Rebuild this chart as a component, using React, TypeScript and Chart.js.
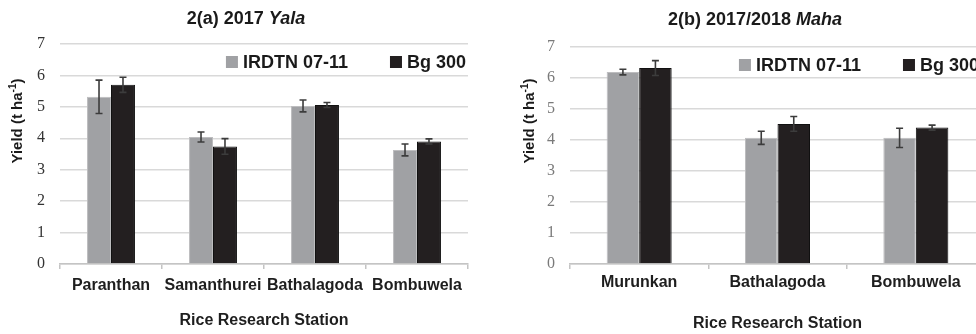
import React, { useEffect, useRef } from "react";
import { Chart, registerables } from "chart.js";

Chart.register(...registerables);

const seriesNames = ["IRDTN 07-11", "Bg 300"];
const yalaStations = ["Paranthan", "Samanthurei", "Bathalagoda", "Bombuwela"];
const yalaIrdtn = [5.32, 4.04, 5.03, 3.63];
const yalaIrdtnErr = [0.53, 0.16, 0.19, 0.19];
const yalaBg300 = [5.7, 3.74, 5.06, 3.9];
const yalaBg300Err = [0.24, 0.25, 0.08, 0.08];
const mahaStations = ["Murunkan", "Bathalagoda", "Bombuwela"];
const mahaIrdtn = [6.19, 4.07, 4.07];
const mahaIrdtnErr = [0.09, 0.21, 0.31];
const mahaBg300 = [6.32, 4.52, 4.4];
const mahaBg300Err = [0.24, 0.24, 0.08];
const yMin = 0;
const yMax = 7;
const yStep = 1;

const SANS = "'Liberation Sans', Arial, sans-serif";
const SERIF = "'Liberation Serif', 'Times New Roman', serif";
const GRAY = "#a0a1a4";
const GRAY_BORDER = "#bdbdbf";
const BLACK = "#231f20";
const BLACK_BORDER = "#111111";

type Deco = {
  titleMain: string;
  titleItalic: string;
  titleX: number;
  titleY: number;
  yTitleX: number;
  yTitleY: number;
  legendRightGap: number;
  legendDy: number;
  tickColor: string;
};

function makePlugins(deco: Deco) {
  const errorBars = {
    id: "errorBars",
    afterDatasetsDraw(chart: any) {
      const ctx = chart.ctx;
      const yScale = chart.scales.y;
      ctx.save();
      ctx.strokeStyle = "#3c3c3c";
      ctx.lineWidth = 1.6;
      chart.data.datasets.forEach((ds: any, i: number) => {
        const meta = chart.getDatasetMeta(i);
        meta.data.forEach((bar: any, j: number) => {
          const v = ds.data[j];
          const e = ds.errors[j];
          const x = bar.x;
          const yT = yScale.getPixelForValue(v + e);
          const yB = yScale.getPixelForValue(v - e);
          const cap = 3.5;
          ctx.beginPath();
          ctx.moveTo(x, yT);
          ctx.lineTo(x, yB);
          ctx.moveTo(x - cap, yT);
          ctx.lineTo(x + cap, yT);
          ctx.moveTo(x - cap, yB);
          ctx.lineTo(x + cap, yB);
          ctx.stroke();
        });
      });
      ctx.restore();
    },
  };

  const decorations = {
    id: "decorations",
    afterDraw(chart: any) {
      const ctx = chart.ctx;
      const area = chart.chartArea;
      ctx.save();
      // Title
      const fMain = `bold 18px ${SANS}`;
      const fIt = `italic bold 18px ${SANS}`;
      ctx.font = fMain;
      const w1 = ctx.measureText(deco.titleMain).width;
      ctx.font = fIt;
      const w2 = ctx.measureText(deco.titleItalic).width;
      let x0 = deco.titleX - (w1 + w2) / 2;
      ctx.fillStyle = "#1a1a1a";
      ctx.textBaseline = "middle";
      ctx.textAlign = "left";
      ctx.font = fMain;
      ctx.fillText(deco.titleMain, x0, deco.titleY);
      ctx.font = fIt;
      ctx.fillText(deco.titleItalic, x0 + w1, deco.titleY);

      // Y axis title
      ctx.save();
      ctx.translate(deco.yTitleX, area.top + deco.yTitleY);
      ctx.rotate(-Math.PI / 2);
      const fy = `bold 15px ${SANS}`;
      const fs = `bold 10px ${SANS}`;
      const a = "Yield (t ha";
      const sup = "-1";
      const b = ")";
      ctx.font = fy;
      const wa = ctx.measureText(a).width;
      const wb = ctx.measureText(b).width;
      ctx.font = fs;
      const ws = ctx.measureText(sup).width;
      let sx = -(wa + ws + wb) / 2;
      ctx.fillStyle = "#1a1a1a";
      ctx.font = fy;
      ctx.fillText(a, sx, 0);
      ctx.font = fs;
      ctx.fillText(sup, sx + wa, -5);
      ctx.font = fy;
      ctx.fillText(b, sx + wa + ws, 0);
      ctx.restore();

      // Legend
      const lf = `bold 18px ${SANS}`;
      ctx.font = lf;
      const box = 12;
      const gapText = 5;
      const gapItem = 42;
      const colors = [GRAY, BLACK];
      const widths = seriesNames.map((n) => ctx.measureText(n).width);
      const total =
        widths.reduce((s, w) => s + w, 0) + seriesNames.length * (box + gapText) + gapItem * (seriesNames.length - 1);
      let lx = area.right - deco.legendRightGap - total;
      const ly = area.top + deco.legendDy;
      seriesNames.forEach((n, i) => {
        ctx.fillStyle = colors[i];
        ctx.fillRect(lx, ly - box / 2, box, box);
        ctx.fillStyle = "#1a1a1a";
        ctx.textBaseline = "middle";
        ctx.fillText(n, lx + box + gapText, ly + 1);
        lx += box + gapText + widths[i] + gapItem;
      });
      ctx.restore();
    },
  };
  return [errorBars, decorations];
}

function buildConfig(
  labels: string[],
  irdtn: number[],
  irdtnErr: number[],
  bg: number[],
  bgErr: number[],
  opts: {
    yWidth: number;
    padTop: number;
    padRight: number;
    xTickPad: number;
    xTitlePadBottom: number;
    deco: Deco;
  }
): any {
  return {
    type: "bar",
    data: {
      labels,
      datasets: [
        {
          label: seriesNames[0],
          data: irdtn,
          errors: irdtnErr,
          backgroundColor: GRAY,
          borderColor: GRAY_BORDER,
          borderWidth: 1,
          categoryPercentage: 0.47,
          barPercentage: 1,
        },
        {
          label: seriesNames[1],
          data: bg,
          errors: bgErr,
          backgroundColor: BLACK,
          borderColor: BLACK_BORDER,
          borderWidth: 1,
          categoryPercentage: 0.47,
          barPercentage: 1,
        },
      ],
    },
    options: {
      responsive: false,
      animation: false,
      devicePixelRatio: 1,
      layout: { padding: { top: opts.padTop, right: opts.padRight, left: 0, bottom: 0 } },
      plugins: {
        legend: { display: false },
        title: { display: false },
        tooltip: { enabled: false },
      },
      scales: {
        x: {
          grid: {
            offset: true,
            drawOnChartArea: false,
            drawTicks: true,
            tickLength: 5,
            color: "#c4c4c4",
            lineWidth: 1.5,
          },
          border: { display: true, color: "#c4c4c4", width: 1.5 },
          ticks: {
            color: "#1e1e1e",
            padding: opts.xTickPad,
            font: { family: SANS, size: 16, weight: "bold" },
            maxRotation: 0,
            autoSkip: false,
          },
          title: {
            display: true,
            text: "Rice Research Station",
            color: "#1e1e1e",
            font: { family: SANS, size: 16, weight: "bold" },
            padding: { top: 0, bottom: opts.xTitlePadBottom },
          },
          afterFit(scale: any) {
            scale.height = 70;
          },
        },
        y: {
          min: yMin,
          max: yMax,
          grid: { drawTicks: false, color: "#d9d9d9", lineWidth: 1.5 },
          border: { display: false },
          ticks: {
            stepSize: yStep,
            padding: 15,
            color: opts.deco.tickColor,
            font: { family: SERIF, size: 16 },
          },
          afterFit(scale: any) {
            scale.width = opts.yWidth;
          },
        },
      },
    },
    plugins: makePlugins(opts.deco),
  };
}

function ChartPanel({ left, width, config }: { left: number; width: number; config: any }) {
  const ref = useRef<HTMLCanvasElement | null>(null);
  useEffect(() => {
    if (!ref.current) return;
    const chart = new Chart(ref.current, config);
    return () => chart.destroy();
  }, []);
  return (
    <canvas
      ref={ref}
      width={width}
      height={334}
      style={{ position: "absolute", left, top: 0, width, height: 334 }}
    />
  );
}

export default function App() {
  const yalaConfig = buildConfig(yalaStations, yalaIrdtn, yalaIrdtnErr, yalaBg300, yalaBg300Err, {
    yWidth: 60,
    padTop: 44,
    padRight: 20,
    xTickPad: 7,
    xTitlePadBottom: 4,
    deco: {
      titleMain: "2(a) 2017 ",
      titleItalic: "Yala",
      titleX: 246,
      titleY: 19,
      yTitleX: 18,
      yTitleY: 77,
      legendRightGap: 2,
      legendDy: 18,
      tickColor: "#333333",
    },
  });
  const mahaConfig = buildConfig(mahaStations, mahaIrdtn, mahaIrdtnErr, mahaBg300, mahaBg300Err, {
    yWidth: 82,
    padTop: 47,
    padRight: 3,
    xTickPad: 4,
    xTitlePadBottom: 1,
    deco: {
      titleMain: "2(b) 2017/2018 ",
      titleItalic: "Maha",
      titleX: 267,
      titleY: 20,
      yTitleX: 42,
      yTitleY: 74,
      legendRightGap: 6,
      legendDy: 18,
      tickColor: "#7a7a7a",
    },
  });
  return (
    <div
      style={{
        position: "fixed",
        left: 0,
        top: 0,
        width: 976,
        height: 334,
        overflow: "hidden",
        background: "#ffffff",
      }}
    >
      <ChartPanel left={0} width={488} config={yalaConfig} />
      <ChartPanel left={488} width={500} config={mahaConfig} />
    </div>
  );
}
